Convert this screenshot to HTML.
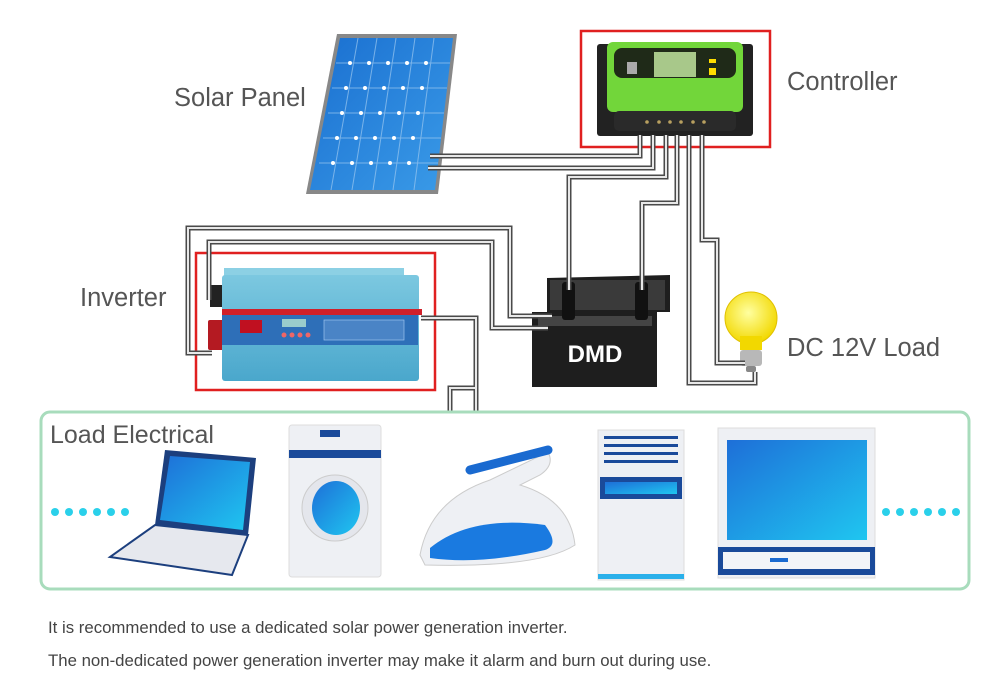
<!DOCTYPE html>
<html><head><meta charset="utf-8"><style>
html,body{margin:0;padding:0;background:#fff;}
svg{display:block;font-family:"Liberation Sans",Arial,sans-serif;}
</style></head><body>
<svg width="1000" height="682" viewBox="0 0 1000 682" xmlns="http://www.w3.org/2000/svg">
<defs>
<linearGradient id="blu" x1="0" y1="0" x2="1" y2="1"><stop offset="0" stop-color="#1a6fd0"/><stop offset="1" stop-color="#3a9be8"/></linearGradient>
<linearGradient id="scr" x1="0" y1="0" x2="1" y2="1"><stop offset="0" stop-color="#1e6fd8"/><stop offset="1" stop-color="#1fc6f0"/></linearGradient>
<linearGradient id="inv" x1="0" y1="0" x2="0" y2="1"><stop offset="0" stop-color="#7cc8e0"/><stop offset="1" stop-color="#4aa7cc"/></linearGradient>
<radialGradient id="bulb" cx="0.45" cy="0.4" r="0.6"><stop offset="0" stop-color="#ffffa0"/><stop offset="1" stop-color="#f2d800"/></radialGradient>
<g id="w" fill="none" stroke-linejoin="miter">
<path d="M430 156 H640 V135"/>
<path d="M428 168 H653 V135"/>
<path d="M666 135 V177 H569 V290"/>
<path d="M677 135 V203 H642 V290"/>
<path d="M689 135 V383 H755 V372"/>
<path d="M702 135 V240 H717 V363 H745"/>
<path d="M552 316 H510 V228 H188 V353 H212"/>
<path d="M548 328 H492 V242 H209 V300"/>
<path d="M421 318 H476 V412"/>
<path d="M450 412 V388 H476"/>
</g>
</defs>

<polygon points="337,34 457,34 438,194 306,194" fill="#888"/>
<polygon points="340,38 453,38 435,190 310,190" fill="url(#blu)"/>
<g stroke="#9cc8f0" stroke-width="1" opacity="0.7">
<line x1="358" y1="38" x2="331" y2="190"/><line x1="377" y1="38" x2="352" y2="190"/><line x1="396" y1="38" x2="373" y2="190"/><line x1="415" y1="38" x2="393" y2="190"/><line x1="434" y1="38" x2="414" y2="190"/>
<line x1="336" y1="63" x2="450" y2="63"/><line x1="332" y1="88" x2="447" y2="88"/><line x1="328" y1="113" x2="444" y2="113"/><line x1="323" y1="138" x2="441" y2="138"/><line x1="319" y1="163" x2="438" y2="163"/>
</g>
<g fill="#fff">
<circle cx="350" cy="63" r="2"/><circle cx="369" cy="63" r="2"/><circle cx="388" cy="63" r="2"/><circle cx="407" cy="63" r="2"/><circle cx="426" cy="63" r="2"/>
<circle cx="346" cy="88" r="2"/><circle cx="365" cy="88" r="2"/><circle cx="384" cy="88" r="2"/><circle cx="403" cy="88" r="2"/><circle cx="422" cy="88" r="2"/>
<circle cx="342" cy="113" r="2"/><circle cx="361" cy="113" r="2"/><circle cx="380" cy="113" r="2"/><circle cx="399" cy="113" r="2"/><circle cx="418" cy="113" r="2"/>
<circle cx="337" cy="138" r="2"/><circle cx="356" cy="138" r="2"/><circle cx="375" cy="138" r="2"/><circle cx="394" cy="138" r="2"/><circle cx="413" cy="138" r="2"/>
<circle cx="333" cy="163" r="2"/><circle cx="352" cy="163" r="2"/><circle cx="371" cy="163" r="2"/><circle cx="390" cy="163" r="2"/><circle cx="409" cy="163" r="2"/>
</g>

<rect x="581" y="31" width="189" height="116" fill="none" stroke="#e02020" stroke-width="2.5"/>
<rect x="597" y="44" width="156" height="92" rx="3" fill="#222"/>
<rect x="607" y="42" width="136" height="70" rx="6" fill="#72d63a"/>
<rect x="614" y="48" width="122" height="30" rx="8" fill="#1f2a18"/>
<rect x="654" y="52" width="42" height="25" fill="#a8c88a"/>
<rect x="627" y="62" width="10" height="12" fill="#aaa"/>
<rect x="709" y="59" width="7" height="4" fill="#ffdd00"/>
<rect x="709" y="68" width="7" height="7" fill="#ffdd00"/>
<rect x="614" y="111" width="122" height="20" rx="5" fill="#2a2a2a"/>
<g fill="#b8a060"><circle cx="647" cy="122" r="1.8"/><circle cx="659" cy="122" r="1.8"/><circle cx="670" cy="122" r="1.8"/><circle cx="681" cy="122" r="1.8"/><circle cx="693" cy="122" r="1.8"/><circle cx="704" cy="122" r="1.8"/></g>

<rect x="196" y="253" width="239" height="137" fill="none" stroke="#e02020" stroke-width="2.5"/>
<rect x="210" y="285" width="14" height="22" fill="#222"/>
<rect x="208" y="320" width="17" height="30" rx="2" fill="#b41a22"/>
<rect x="224" y="268" width="180" height="10" fill="#8cd0e4"/>
<rect x="222" y="275" width="197" height="106" rx="3" fill="url(#inv)"/>
<rect x="222" y="309" width="200" height="6" fill="#d0202a"/>
<rect x="222" y="315" width="196" height="30" fill="#2e6fb8"/>
<rect x="240" y="320" width="22" height="13" fill="#c01020"/>
<rect x="282" y="319" width="24" height="8" fill="#9cc"/>
<g fill="#e66"><circle cx="284" cy="335" r="2.5"/><circle cx="292" cy="335" r="2.5"/><circle cx="300" cy="335" r="2.5"/><circle cx="308" cy="335" r="2.5"/></g>
<rect x="324" y="320" width="80" height="20" fill="#4a84c6" stroke="#9cc4ee" stroke-width="0.7"/>

<polygon points="547,278 670,275 670,312 657,312 657,387 532,387 532,312 547,312" fill="#1e1e1e"/>
<rect x="550" y="280" width="115" height="30" fill="#3a3a3a"/>
<rect x="538" y="316" width="114" height="10" fill="#444"/>
<rect x="562" y="282" width="13" height="38" rx="3" fill="#111"/>
<rect x="635" y="282" width="13" height="38" rx="3" fill="#111"/>
<text x="595" y="362" font-size="24" font-weight="bold" fill="#fff" text-anchor="middle">DMD</text>

<circle cx="751" cy="318" r="26" fill="url(#bulb)" stroke="#e0c000" stroke-width="1"/>
<rect x="740" y="336" width="22" height="14" fill="#f2d800"/>
<rect x="740" y="350" width="22" height="16" rx="3" fill="#b8b8b8"/>
<rect x="746" y="366" width="10" height="6" rx="2" fill="#888"/>

<use href="#w" stroke="#4a4a4a" stroke-width="5"/>
<use href="#w" stroke="#e8e8e8" stroke-width="2"/>

<g font-size="25.5" fill="#555">
<text x="174" y="106">Solar Panel</text>
<text x="787" y="90">Controller</text>
<text x="80" y="306">Inverter</text>
<text x="787" y="356">DC 12V Load</text>
</g>

<rect x="41" y="412" width="928" height="177" rx="9" fill="#fff" stroke="#a8dcbc" stroke-width="3"/>
<text x="50" y="443" font-size="25" fill="#555">Load Electrical</text>
<g fill="#2ad0ea">
<circle cx="55" cy="512" r="4"/><circle cx="69" cy="512" r="4"/><circle cx="83" cy="512" r="4"/><circle cx="97" cy="512" r="4"/><circle cx="111" cy="512" r="4"/><circle cx="125" cy="512" r="4"/>
<circle cx="886" cy="512" r="4"/><circle cx="900" cy="512" r="4"/><circle cx="914" cy="512" r="4"/><circle cx="928" cy="512" r="4"/><circle cx="942" cy="512" r="4"/><circle cx="956" cy="512" r="4"/>
</g>
<polygon points="165,450 256,458 248,535 155,525" fill="#1c3f7e"/>
<polygon points="170,456 250,462 243,530 160,520" fill="url(#scr)"/>
<polygon points="155,525 248,535 232,575 110,557" fill="#e6e8ee" stroke="#1c3f7e" stroke-width="2"/>
<rect x="289" y="425" width="92" height="152" rx="3" fill="#eef0f4" stroke="#ddd"/>
<rect x="289" y="450" width="92" height="8" fill="#1a4a9a"/>
<rect x="320" y="430" width="20" height="7" fill="#1a4a9a"/>
<circle cx="335" cy="508" r="33" fill="#e4e6ec" stroke="#ccc"/>
<ellipse cx="336" cy="508" rx="24" ry="27" fill="url(#scr)"/>
<path d="M420 555 Q430 500 490 480 L548 452 Q555 465 540 475 L520 485 Q570 500 575 545 Q540 568 425 565 Z" fill="#eef0f4" stroke="#ccc"/>
<path d="M430 548 Q470 515 545 525 Q560 545 545 550 Q480 565 430 558 Z" fill="#1a7ae0"/>
<path d="M470 470 L548 450" stroke="#1a6ad0" stroke-width="9" stroke-linecap="round"/>
<rect x="598" y="430" width="86" height="150" fill="#eef0f4" stroke="#ddd"/>
<g fill="#1a4a9a"><rect x="604" y="436" width="74" height="3"/><rect x="604" y="444" width="74" height="3"/><rect x="604" y="452" width="74" height="3"/><rect x="604" y="460" width="74" height="3"/></g>
<rect x="600" y="477" width="82" height="22" fill="#1a4a9a"/>
<rect x="605" y="482" width="72" height="12" fill="url(#scr)"/>
<rect x="598" y="574" width="86" height="5" fill="#2ab0ea"/>
<rect x="718" y="428" width="157" height="150" fill="#eef0f4" stroke="#ddd"/>
<rect x="727" y="440" width="140" height="100" fill="url(#scr)"/>
<rect x="718" y="547" width="157" height="28" fill="#1a4a9a"/>
<rect x="723" y="552" width="147" height="17" fill="#f2f4f8"/>
<rect x="770" y="558" width="18" height="4" fill="#1a6ad0"/>

<text x="48" y="633" font-size="16.8" fill="#444">It is recommended to use a dedicated solar power generation inverter.</text>
<text x="48" y="666" font-size="16.8" fill="#444">The non-dedicated power generation inverter may make it alarm and burn out during use.</text>
</svg>
</body></html>
